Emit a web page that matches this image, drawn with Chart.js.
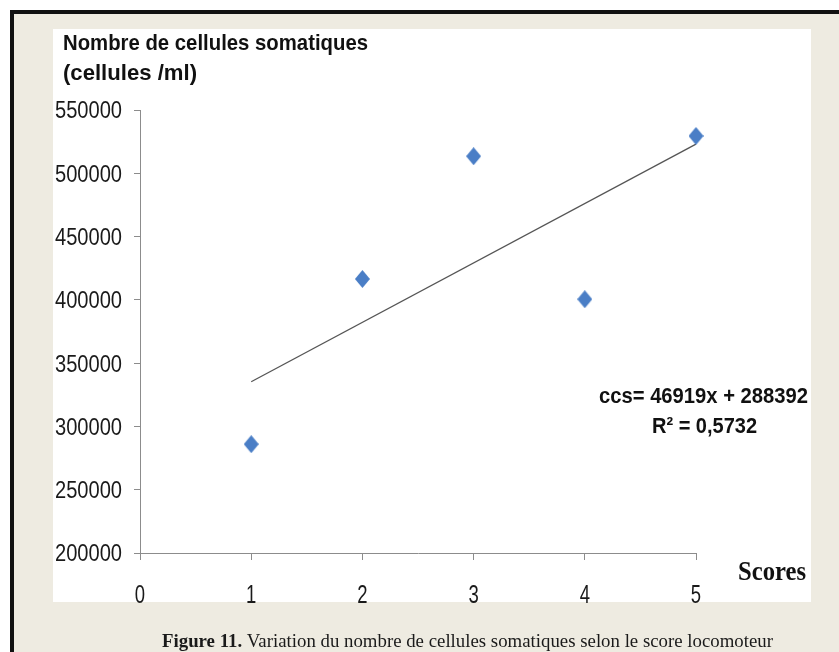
<!DOCTYPE html>
<html>
<head>
<meta charset="utf-8">
<script src="https://cdn.jsdelivr.net/npm/chart.js@4/dist/chart.umd.min.js"></script>
<style>
  html, body { margin: 0; padding: 0; background: #ffffff; }
  #wrap { width: 839px; height: 652px; position: relative; }
  canvas { display: block; }
</style>
</head>
<body>
<div id="wrap"><canvas id="c" width="839" height="652"></canvas></div>
<script>
// Scores locomoteurs et nombre moyen de cellules somatiques (cellules/ml)
const scores = [1, 2, 3, 4, 5];
const ccsValues = [286000, 416500, 513500, 400500, 529500];

// Droite de régression affichée sur le graphique
const slope = 46919;
const intercept = 288392;
const rSquared = '0,5732';

// Graduations des axes
const xTicks = [0, 1, 2, 3, 4, 5];
const yTicks = [200000, 250000, 300000, 350000, 400000, 450000, 500000, 550000];

const points = scores.map((s, i) => ({ x: s, y: ccsValues[i] }));
const trendX = [scores[0], scores[scores.length - 1]];
const trend = trendX.map(x => ({ x: x, y: slope * x + intercept }));

const SANS = "'Liberation Sans', Arial, sans-serif";
const SERIF = "'Liberation Serif', 'Times New Roman', serif";

// Losange bleu légèrement plus haut que large
function diamond(w, h, color) {
  const c = document.createElement('canvas');
  c.width = w; c.height = h;
  const g = c.getContext('2d');
  g.fillStyle = color;
  g.beginPath();
  g.moveTo(w / 2, 0);
  g.lineTo(w, h / 2);
  g.lineTo(w / 2, h);
  g.lineTo(0, h / 2);
  g.closePath();
  g.fill();
  return c;
}
const marker = diamond(15, 18, '#4a7ec6');

// Texte resserré horizontalement (police étroite)
// align: 'left' | 'right' | 'center' relatif à x
function fitText(ctx, parts, x, y, opts) {
  let total = 0;
  parts.forEach(p => { ctx.font = p.font; p.w = ctx.measureText(p.text).width; total += p.w; });
  const sx = opts.width ? opts.width / total : opts.sx;
  const drawn = total * sx;
  let left = x;
  if (opts.align === 'right') left = x - drawn;
  else if (opts.align === 'center') left = x - drawn / 2;
  ctx.save();
  ctx.translate(left, y);
  ctx.scale(sx, 1);
  let cx = 0;
  ctx.textAlign = 'left';
  ctx.textBaseline = 'alphabetic';
  parts.forEach(p => {
    ctx.font = p.font;
    ctx.fillStyle = p.color || '#111';
    ctx.fillText(p.text, cx, 0);
    cx += p.w;
  });
  ctx.restore();
}

const framePlugin = {
  id: 'frame',
  beforeDraw(chart) {
    const ctx = chart.ctx;
    ctx.save();
    ctx.fillStyle = '#ffffff';
    ctx.fillRect(0, 0, 839, 652);
    ctx.fillStyle = '#111111';
    ctx.fillRect(10, 10, 829, 4);
    ctx.fillRect(10, 10, 4, 642);
    ctx.fillStyle = '#eeebe1';
    ctx.fillRect(14, 14, 825, 638);
    ctx.fillStyle = '#ffffff';
    ctx.fillRect(53, 29, 758, 573);
    ctx.restore();
  },
  afterDraw(chart) {
    const ctx = chart.ctx;
    const xs = chart.scales.x, ys = chart.scales.y;
    ctx.save();
    // Étiquettes des graduations, en caractères étroits
    ys.ticks.forEach(t => {
      const py = ys.getPixelForValue(t.value);
      fitText(ctx, [{ text: String(t.value), font: '23.5px ' + SANS, color: '#1a1a1a' }],
        122, py + 8.4, { sx: 0.855, align: 'right' });
    });
    xs.ticks.forEach(t => {
      const px = xs.getPixelForValue(t.value);
      fitText(ctx, [{ text: String(t.value), font: '25px ' + SANS, color: '#1a1a1a' }],
        px, 603, { sx: 0.74, align: 'center' });
    });
    fitText(ctx, [{ text: 'Nombre de cellules somatiques', font: 'bold 21.5px ' + SANS }], 63, 50, { width: 305 });
    fitText(ctx, [{ text: '(cellules /ml)', font: 'bold 21.5px ' + SANS }], 63, 80, { width: 134 });
    fitText(ctx, [{ text: 'ccs= 46919x + 288392', font: 'bold 22.5px ' + SANS }], 599, 403, { width: 209 });
    fitText(ctx, [{ text: 'R² = ' + rSquared, font: 'bold 22.5px ' + SANS }], 652, 433, { width: 105 });
    fitText(ctx, [{ text: 'Scores', font: 'bold 27px ' + SERIF }], 738, 580, { width: 68 });
    fitText(ctx, [
      { text: 'Figure 11.', font: 'bold 18px ' + SERIF, color: '#1a1a1a' },
      { text: ' Variation du nombre de cellules somatiques selon le score locomoteur', font: '18px ' + SERIF, color: '#1a1a1a' }
    ], 162, 647, { width: 611 });
    ctx.restore();
  }
};

new Chart(document.getElementById('c'), {
  type: 'scatter',
  data: {
    datasets: [
      {
        label: 'ccs',
        data: points,
        pointStyle: marker,
        pointRadius: 9,
        pointHoverRadius: 9,
        clip: false,
        order: 1
      },
      {
        type: 'line',
        label: 'tendance',
        data: trend,
        borderColor: '#555555',
        borderWidth: 1.3,
        pointRadius: 0,
        fill: false,
        clip: false,
        order: 2
      }
    ]
  },
  options: {
    responsive: false,
    animation: false,
    devicePixelRatio: 1,
    layout: { padding: { left: 0, top: 110, right: 143, bottom: 0 } },
    plugins: { legend: { display: false }, tooltip: { enabled: false }, title: { display: false } },
    scales: {
      x: {
        type: 'linear',
        min: xTicks[0],
        max: xTicks[xTicks.length - 1],
        afterBuildTicks(scale) { scale.ticks = xTicks.map(v => ({ value: v })); },
        afterFit(scale) { scale.height = 99; },
        border: { display: true, color: '#8c8c8c', width: 1 },
        grid: { drawOnChartArea: false, drawTicks: true, tickLength: 7, color: '#8c8c8c' },
        ticks: { display: false }
      },
      y: {
        type: 'linear',
        min: yTicks[0],
        max: yTicks[yTicks.length - 1],
        afterBuildTicks(scale) { scale.ticks = yTicks.map(v => ({ value: v })); },
        afterFit(scale) { scale.width = 140; },
        border: { display: true, color: '#8c8c8c', width: 1 },
        grid: { drawOnChartArea: false, drawTicks: true, tickLength: 6, color: '#8c8c8c' },
        ticks: { display: false }
      }
    }
  },
  plugins: [framePlugin]
});
</script>
</body>
</html>
